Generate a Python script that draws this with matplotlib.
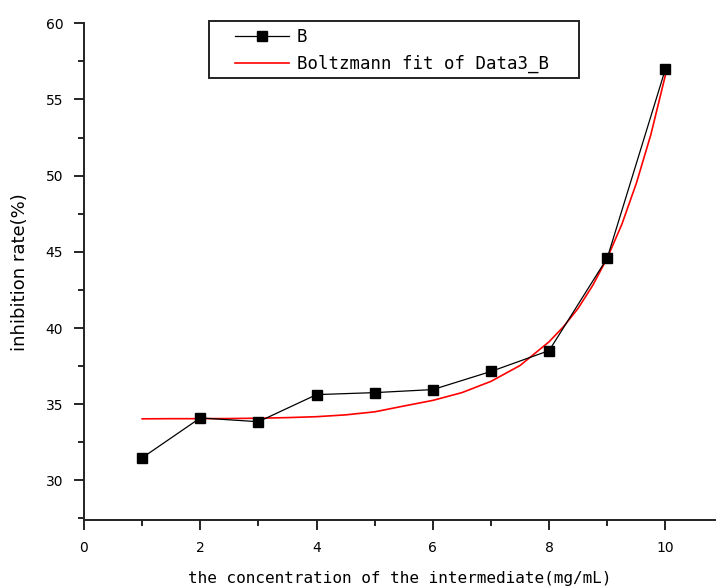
import matplotlib.pyplot as plt
from matplotlib.patches import Rectangle
from matplotlib.ticker import MultipleLocator

# datos medidos
conc = [1, 2, 3, 4, 5, 6, 7, 8, 9, 10]
rate_b = [31.48, 34.1, 33.85, 35.63, 35.76, 35.96, 37.15, 38.52, 44.6, 57.0]

# curva de ajuste Boltzmann
fit_x = [1, 1.5, 2, 2.5, 3, 3.5, 4, 4.5, 5, 5.5, 6, 6.5, 7, 7.5, 8, 8.25, 8.5,
         8.75, 9, 9.25, 9.5, 9.75, 10]
fit_y = [34.04, 34.05, 34.05, 34.06, 34.08, 34.12, 34.18, 34.3, 34.5, 34.88,
         35.25, 35.76, 36.5, 37.54, 39.1, 40.1, 41.3, 42.8, 44.6, 46.8, 49.5,
         52.7, 56.6]

plt.rcParams["font.family"] = ["DejaVu Sans"]

fig = plt.figure(figsize=(7.16, 5.88), dpi=100)
ax = fig.add_axes([84 / 716, 1 - 520 / 588, 1 - 84 / 716, (520 - 23.3) / 588])

ax.plot(fit_x, fit_y, color="red", lw=1.2, label="Boltzmann fit of Data3_B", zorder=2)
ax.plot(conc, rate_b, color="black", lw=0.9, marker="s", markersize=6.5,
        label="B", zorder=3)

ax.set_xlim(0, 10.87)
ax.set_ylim(27.4, 60)
ax.xaxis.set_major_locator(MultipleLocator(2))
ax.xaxis.set_minor_locator(MultipleLocator(1))
ax.yaxis.set_minor_locator(MultipleLocator(2.5))
ax.set_yticks([30, 35, 40, 45, 50, 55, 60])

for s in ["top", "right"]:
    ax.spines[s].set_visible(False)
for s in ["left", "bottom"]:
    ax.spines[s].set_linewidth(1.4)
    ax.spines[s].set_color("#222222")

ax.tick_params(which="major", direction="out", length=7, width=1.2, labelsize=10, pad=8)
ax.tick_params(which="minor", direction="out", length=4, width=1.2)

ax.set_xlabel("the concentration of the intermediate(mg/mL)",
              family="DejaVu Sans Mono", fontsize=11.5, labelpad=12)
ax.set_ylabel("inhibition rate(%)", fontsize=13, labelpad=12)

# caja de la leyenda
ax.add_patch(Rectangle((209 / 716, 1 - 78 / 588), 370 / 716, 57 / 588,
                       transform=fig.transFigure, fill=True, facecolor="white",
                       edgecolor="#222222", lw=1.4, zorder=5, clip_on=False))

handles, labels = ax.get_legend_handles_labels()
leg = ax.legend(handles[::-1], labels[::-1], loc="upper left",
                bbox_to_anchor=(235 / 716, 1 - 28 / 588),
                bbox_transform=fig.transFigure, frameon=False,
                borderaxespad=0, borderpad=0, handlelength=3.1, handletextpad=0.45,
                prop={"family": "DejaVu Sans Mono", "size": 12.5},
                labelspacing=0.5)
leg.set_zorder(6)

plt.savefig("out.png", dpi=100)
